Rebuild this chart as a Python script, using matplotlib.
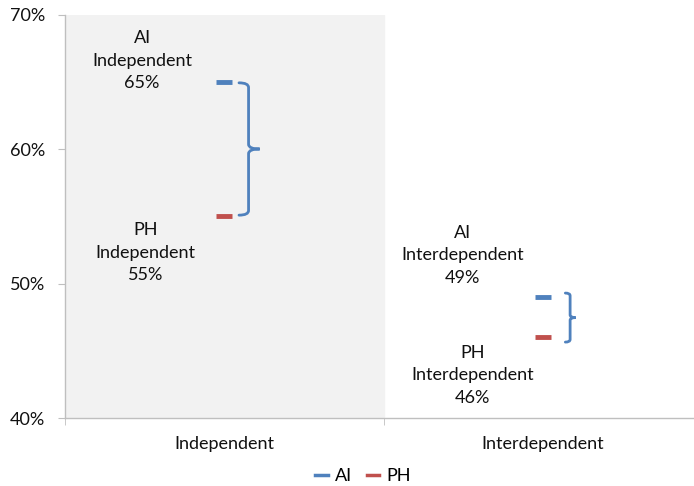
import matplotlib
matplotlib.use('Agg')
import matplotlib.pyplot as plt
from matplotlib.path import Path
from matplotlib.patches import PathPatch
from matplotlib.lines import Line2D

categories = ['Independent', 'Interdependent']
ai_values = [65, 49]
ph_values = [55, 46]
yticks = [40, 50, 60, 70]

BLUE = '#4f81bd'
RED = '#c0504d'
GRID = '#bfbfbf'

plt.rcParams['font.family'] = ['Lato', 'DejaVu Sans']


def brace(ax, x, y_top, y_bot, tail, tip, r=0.35):
    # right-facing curly brace between y_top and y_bot
    y_mid = (y_top + y_bot) / 2
    verts = [
        (x - tail, y_top), (x, y_top), (x, y_top - r),
        (x, y_mid + r), (x, y_mid), (x + tip, y_mid),
        (x, y_mid), (x, y_mid - r),
        (x, y_bot + r), (x, y_bot), (x - tail, y_bot),
    ]
    codes = [
        Path.MOVETO, Path.CURVE3, Path.CURVE3,
        Path.LINETO, Path.CURVE3, Path.CURVE3,
        Path.CURVE3, Path.CURVE3,
        Path.LINETO, Path.CURVE3, Path.CURVE3,
    ]
    ax.add_patch(PathPatch(Path(verts, codes), fill=False,
                           edgecolor=BLUE, linewidth=2, capstyle='round'))


fig = plt.figure(figsize=(6.94, 4.86), dpi=100)
ax = fig.add_axes([64.5 / 694, 68 / 486, 638 / 694, 403 / 486])

ax.set_xlim(-0.5, 1.5)
ax.set_ylim(40, 70)
ax.axvspan(-0.5, 0.5, color='#f2f2f2', zorder=0)

x = list(range(len(categories)))
ax.plot(x, ai_values, linestyle='none', marker='_', markersize=12,
        markeredgewidth=3.5, color=BLUE)
ax.plot(x, ph_values, linestyle='none', marker='_', markersize=12,
        markeredgewidth=3.5, color=RED)

# braces between the AI and PH marks
brace(ax, 0 + 0.077, ai_values[0] - 0.05, ph_values[0] + 0.1, 0.03, 0.035)
brace(ax, 1 + 0.085, ai_values[1] + 0.3, ph_values[1] - 0.35, 0.015, 0.017,
      r=0.2)

# value labels
label_pos = [
    (-0.257, 66.6, 'AI', categories[0], ai_values[0]),
    (-0.245, 52.3, 'PH', categories[0], ph_values[0]),
    (0.749, 52.1, 'AI', categories[1], ai_values[1]),
    (0.78, 43.2, 'PH', categories[1], ph_values[1]),
]
for lx, ly, name, cat, v in label_pos:
    ax.text(lx, ly, f'{name}\n{cat}\n{v}%', ha='center', va='center',
            fontsize=13, linespacing=1.5, color='#111111')

ax.set_yticks(yticks)
ax.set_yticklabels([f'{t}%' for t in yticks])
ax.set_xticks(x)
ax.set_xticklabels(categories)
ax.set_xticks([-0.5, 0.5, 1.5], minor=True)
ax.tick_params(axis='x', which='major', length=0, pad=13, labelsize=13,
               labelcolor='#111111')
ax.tick_params(axis='x', which='minor', length=5, color=GRID)
ax.tick_params(axis='y', length=5, color=GRID, pad=9, labelsize=13,
               labelcolor='#111111')

for side in ['top', 'right']:
    ax.spines[side].set_visible(False)
for side in ['left', 'bottom']:
    ax.spines[side].set_color(GRID)
    ax.spines[side].set_linewidth(1)

handles = [Line2D([], [], color=BLUE, linewidth=2.5),
           Line2D([], [], color=RED, linewidth=2.5)]
fig.legend(handles, ['AI', 'PH'], loc='center', bbox_to_anchor=(363 / 694, 1 - 476 / 486),
           ncol=2, frameon=False, fontsize=13, handlelength=0.7,
           handletextpad=0.4, columnspacing=0.8)

fig.savefig('out.png', dpi=100)
